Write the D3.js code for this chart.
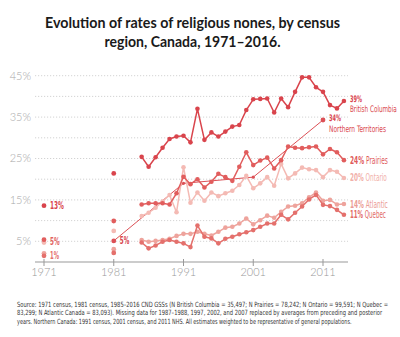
<!DOCTYPE html>
<html><head><meta charset="utf-8">
<script src="https://cdn.jsdelivr.net/npm/d3@7"></script>
<style>body{margin:0;background:#fff}svg{display:block}</style>
</head><body>
<svg id="c" width="400" height="337"></svg>
<script>
const titleLines = ["Evolution of rates of religious nones, by census", "region, Canada, 1971–2016."];
const gssYears = [1985,1986,1987,1988,1989,1990,1991,1992,1993,1994,1995,1996,1997,1998,1999,2000,2001,2002,2003,2004,2005,2006,2007,2008,2009,2010,2011,2012,2013,2014];
const bc       = [25.4,23.0,25.3,27.6,29.7,30.3,30.5,28.9,37.0,29.5,31.3,30.3,31.5,32.7,33.1,36.7,39.3,39.4,39.5,36.1,39.5,37.4,41.1,44.6,44.6,42.2,41.1,37.9,37.1,38.9];
const prairies = [13.9,14.2,14.2,14.2,13.9,16.6,20.6,18.8,20.0,18.0,19.4,21.3,20.5,19.6,23.0,26.5,23.4,24.5,25.2,22.6,24.6,27.9,27.6,27.5,27.7,27.9,26.0,27.3,26.5,24.6];
const ontario  = [11.1,11.9,13.1,14.6,16.2,12.0,22.9,14.3,16.8,14.8,16.8,15.9,16.6,17.2,18.6,20.8,17.8,19.0,20.5,18.4,23.7,20.2,21.4,22.8,22.4,22.2,20.5,22.2,21.8,20.3];
const atlantic = [5.3,4.9,5.1,5.3,5.6,6.3,6.8,6.8,7.3,6.8,6.4,7.3,8.3,8.5,9.3,10.5,9.1,10.1,11.2,10.7,12.1,13.4,13.6,14.2,15.6,16.8,14.8,15.0,13.9,14.0];
const quebec   = [4.7,3.3,4.0,4.9,5.3,4.9,4.5,3.6,8.8,6.1,5.7,4.5,5.6,6.1,6.7,7.2,7.7,8.5,9.3,9.3,11.4,10.3,11.9,13.4,15.1,16.2,13.8,13.5,12.6,11.4];
const ntYears = [1981, 1991, 2001, 2011];
const nt = [5.1, 19.0, 20.5, 34.3];
const censusYears = [1971, 1981];
const bcCensus       = [13.6, 21.4];
const prairiesCensus = [5.4, 9.9];
const ontarioCensus  = [4.7, 7.5];
const atlanticCensus = [2.1, 3.1];
const quebecCensus   = [1.5, 2.2];
const yTickValues = [5, 15, 25, 35, 45];
const gridValues = [5, 10, 15, 20, 25, 30, 35, 40, 45];
const xTickValues = [1971, 1981, 1991, 2001, 2011];
const leftLabels = [{year:1971, v:13.6, text:"13%", color:"#d9444c", w:14},
                    {year:1971, v:5.0, text:"5%", color:"#e2605e", w:9.5},
                    {year:1971, v:1.6, text:"1%", color:"#e4706c", w:9},
                    {year:1981, v:5.1, text:"5%", color:"#d9444c", w:9.5}];
const footLines = [
 "Source: 1971 census, 1981 census, 1985–2016 CND GSSs (N British Columbia = 35,497; N Prairies = 78,242; N Ontario = 99,591; N Quebec =",
 "83,299; N Atlantic Canada = 83,093). Missing data for 1987–1988, 1997, 2002, and 2007 replaced by averages from preceding and posterior",
 "years. Northern Canada: 1991 census, 2001 census, and 2011 NHS. All estimates weighted to be representative of general populations."
];

const series = [
  {name:"Ontario", pct:"20%", vals:ontario, cen:ontarioCensus, color:"#f4bab4", lab:"#f1b0a9", w:37},
  {name:"Atlantic", pct:"14%", vals:atlantic, cen:atlanticCensus, color:"#eea39c", lab:"#eb9c95", w:38},
  {name:"Quebec", pct:"11%", vals:quebec, cen:quebecCensus, color:"#e4706c", lab:"#e26a66", w:36},
  {name:"Prairies", pct:"24%", vals:prairies, cen:prairiesCensus, color:"#e15d5d", lab:"#e05a5a", w:38},
  {name:"British Columbia", pct:"39%", vals:bc, cen:bcCensus, color:"#d9444c", lab:"#d9444c", twoLine:true, w:47}
];

const svg = d3.select("#c");
const x = d3.scaleLinear().domain([1971, 2011]).range([44, 323]);
const y = d3.scaleLinear().domain([0, 45]).range([262, 75.7]);
const cond = "'Liberation Sans Narrow','Arial Narrow','DejaVu Sans Condensed',sans-serif";

// helper: text squeezed horizontally to a target width via a scale transform
function fitText(parent, tx, ty, width, build) {
  const g = parent.append("g");
  const t = g.append("text").attr("dy","0.35em");
  build(t);
  const natural = t.node().getComputedTextLength();
  const sx = Math.min(1, width / natural);
  g.attr("transform", `translate(${tx},${ty}) scale(${sx},1)`);
  return t;
}

// title
svg.selectAll("text.title").data(titleLines).join("text")
  .attr("class","title")
  .attr("x", 192.5).attr("y", (d,i)=>28 + i*18.5)
  .attr("text-anchor","middle")
  .attr("font-family","Lato, 'Open Sans', sans-serif")
  .attr("font-weight", 700).attr("font-size", 15.5).attr("fill","#1a1a1a")
  .attr("textLength", (d,i)=> i===0 ? 295 : 176)
  .attr("lengthAdjust","spacingAndGlyphs")
  .text(d=>d);

// grid
svg.append("g").selectAll("line").data(gridValues).join("line")
  .attr("x1", 35).attr("x2", 348)
  .attr("y1", d=>y(d)).attr("y2", d=>y(d))
  .attr("stroke","#c8c8c8").attr("stroke-width",0.8).attr("stroke-dasharray","1.2,1.8");

// y labels
svg.append("g").selectAll("text").data(yTickValues).join("text")
  .attr("x", 31).attr("y", d=>y(d)).attr("dy","0.35em")
  .attr("text-anchor","end")
  .attr("font-family","Lato, sans-serif").attr("font-weight",300)
  .attr("font-size", 11).attr("fill","#a8a8a8")
  .text(d=>d+"%");

// x axis
const xa = svg.append("g").attr("transform","translate(0,262)");
xa.append("line").attr("x1",35).attr("x2",348).attr("stroke","#999").attr("stroke-width",1);
xa.selectAll("line.t").data(xTickValues).join("line").attr("class","t")
  .attr("x1",d=>x(d)).attr("x2",d=>x(d)).attr("y1",-3).attr("y2",4)
  .attr("stroke","#999").attr("stroke-width",1);
xa.selectAll("text").data(xTickValues).join("text")
  .attr("x",d=>x(d)).attr("y",14)
  .attr("text-anchor","middle")
  .attr("font-family","Lato, sans-serif").attr("font-weight",300)
  .attr("font-size",11).attr("fill","#999")
  .text(d=>d);

const line = d3.line().x(d=>x(d[0])).y(d=>y(d[1]));

// NT line
const ntData = ntYears.map((yr,i)=>[yr, nt[i]]);
svg.append("path").datum(ntData).attr("d", line)
  .attr("fill","none").attr("stroke","#dc5056").attr("stroke-width",1);
svg.append("g").selectAll("circle").data(ntData).join("circle")
  .attr("cx",d=>x(d[0])).attr("cy",d=>y(d[1]))
  .attr("r",(d,i)=> (i===0||i===3) ? 2.4 : 1.6).attr("fill","#dc5056");

const labelLayer = [];

// series
series.forEach(s=>{
  const data = gssYears.map((yr,i)=>[yr, s.vals[i]]);
  const g = svg.append("g");
  g.append("path").datum(data).attr("d", line)
    .attr("fill","none").attr("stroke", s.color).attr("stroke-width",1.5)
    .attr("stroke-linejoin","round");
  g.selectAll("circle.p").data(data).join("circle").attr("class","p")
    .attr("cx",d=>x(d[0])).attr("cy",d=>y(d[1])).attr("r",2.3).attr("fill",s.color);
  g.selectAll("circle.c").data(censusYears.map((yr,i)=>[yr, s.cen[i]])).join("circle").attr("class","c")
    .attr("cx",d=>x(d[0])).attr("cy",d=>y(d[1])).attr("r",2.4).attr("fill",s.color);
  labelLayer.push({s, last:data[data.length-1]});
});

const labels = svg.append("g");
labelLayer.forEach(({s,last})=>{
  const lx = x(last[0]) + 6;
  const ly = y(last[1]);
  if (s.twoLine) {
    fitText(labels, lx, ly-2.5, 12, t=>t.attr("font-family",cond).attr("font-weight",700)
      .attr("font-size",9).attr("fill",s.lab).text(s.pct));
    fitText(labels, lx, ly+8.3, s.w, t=>t.attr("font-family",cond)
      .attr("font-size",9).attr("fill",s.lab).text(s.name));
  } else {
    fitText(labels, lx, ly, s.w, t=>{
      t.attr("font-family",cond).attr("font-size",10).attr("fill",s.lab);
      t.append("tspan").attr("font-weight",700).text(s.pct);
      t.append("tspan").text(" " + s.name);
    });
  }
});

// NT label
{
  const lx = x(ntYears[3]) + 6, ly = y(nt[3]);
  fitText(labels, lx, ly-1.8, 12, t=>t.attr("font-family",cond).attr("font-weight",700)
    .attr("font-size",9).attr("fill","#d9444c").text("34%"));
  fitText(labels, lx, ly+9, 57, t=>t.attr("font-family",cond)
    .attr("font-size",9).attr("fill","#d9444c").text("Northern Territories"));
}

// left labels
leftLabels.forEach(d=>{
  fitText(labels, x(d.year)+6, y(d.v), d.w, t=>t.attr("font-family",cond).attr("font-weight",700)
    .attr("font-size",10).attr("fill",d.color).text(d.text));
});

// footnote
const foot = svg.append("g");
footLines.forEach((d,i)=>{
  fitText(foot, 17, 304 + i*8.7, [371,365,335][i], t=>t.attr("font-family",cond)
    .attr("font-size",7.2).attr("fill","#333").text(d));
});
</script>
</body></html>
